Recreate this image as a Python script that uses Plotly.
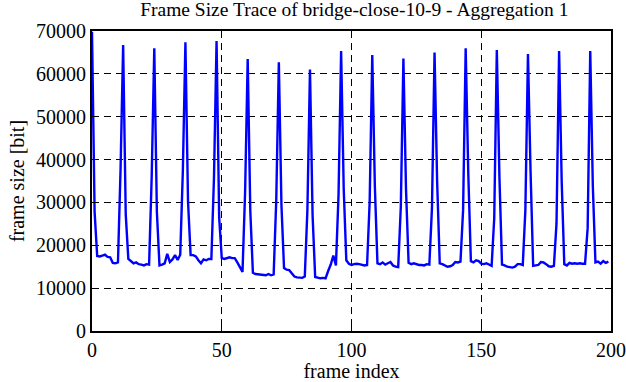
import plotly.graph_objects as go

title_text = "Frame Size Trace of bridge-close-10-9 - Aggregation 1"
x_label = "frame index"
y_label = "frame size [bit]"

frame_size = [
    69800, 27800, 17500, 17400, 17600, 17800, 17300, 17200, 15900, 15800, 16000, 37700,
    66700, 27200, 16800, 16200, 15800, 16000, 15600, 15500, 15300, 15600, 15500, 36000,
    65950, 27800, 15300, 15500, 15800, 18000, 16100, 16700, 17700, 16600, 17800, 37200,
    67350, 30200, 17700, 17700, 17400, 16500, 15800, 16700, 16500, 16800, 16800, 35700,
    67650, 26500, 17000, 16800, 17000, 17200, 17000, 17000, 16000, 14800, 13800, 32500,
    63450, 28000, 13600, 13300, 13200, 13200, 13000, 13000, 13300, 13000, 13200, 30500,
    62700, 29400, 14700, 14300, 14200, 13500, 12700, 12500, 12500, 12400, 12700, 28200,
    61000, 27000, 12600, 12500, 12300, 12400, 12300, 14000, 15500, 17600, 15300, 31700,
    65330, 33100, 16500, 15700, 15400, 15600, 15700, 15600, 15400, 15300, 15400, 30200,
    64400, 33700, 15800, 15600, 16000, 15500, 15800, 16100, 15300, 15000, 14900, 29000,
    63600, 33100, 15900, 15600, 15800, 15600, 15400, 15400, 15300, 15600, 15500, 28600,
    65000, 34800, 15800, 15600, 15300, 15000, 15100, 15400, 16100, 16000, 16200, 28200,
    65950, 36800, 16300, 16000, 16500, 16300, 15700, 15600, 15800, 15400, 15200, 26300,
    65560, 36000, 15500, 15300, 15000, 14900, 14800, 15000, 15600, 15600, 15400, 28200,
    64630, 37200, 15200, 15300, 15400, 16100, 16000, 15600, 15100, 15000, 15200, 25100,
    65330, 34800, 15600, 15300, 15900, 15700, 15800, 15700, 15800, 15700, 15700, 24000,
    65330, 33700, 16000, 16200, 15700, 16300, 15900, 16200,
]
frame_index = list(range(len(frame_size)))

x_ticks = [0, 50, 100, 150, 200]
y_ticks = [0, 10000, 20000, 30000, 40000, 50000, 60000, 70000]

FONT = "Liberation Serif"

fig = go.Figure()
fig.add_trace(go.Scatter(
    x=frame_index, y=frame_size, mode="lines",
    line=dict(color="#0000ff", width=2.4),
    showlegend=False, hoverinfo="skip",
))

axis_common = dict(
    showline=True, linecolor="black", linewidth=2, mirror="ticks",
    ticks="inside", ticklen=6, tickwidth=1, tickcolor="black",
    showgrid=True, gridcolor="black", gridwidth=1, griddash="7px,5px",
    zeroline=False, automargin=False,
    tickfont=dict(family=FONT, size=20, color="black"),
)

fig.update_xaxes(
    range=[0, 200], tickvals=x_ticks, ticktext=[str(v) for v in x_ticks],
    title=dict(text=x_label, font=dict(family=FONT, size=20, color="black"), standoff=4),
    **axis_common,
)
fig.update_yaxes(
    range=[0, 70000], tickvals=y_ticks, ticktext=[str(v) for v in y_ticks],
    title=dict(text=y_label, font=dict(family=FONT, size=20, color="black"), standoff=6),
    **axis_common,
)

fig.update_layout(
    width=626, height=382,
    margin=dict(l=92, r=15, t=31, b=51),
    paper_bgcolor="white", plot_bgcolor="white",
    font=dict(family=FONT, size=20, color="black"),
    title=dict(text=title_text, x=0.566, xanchor="center", y=0.995, yanchor="top",
               font=dict(family=FONT, size=19.5, color="black")),
)

fig.write_html(
    "out.html",
    config={"displayModeBar": False},
    post_script="document.body.style.margin='0';document.body.style.padding='0';",
)
